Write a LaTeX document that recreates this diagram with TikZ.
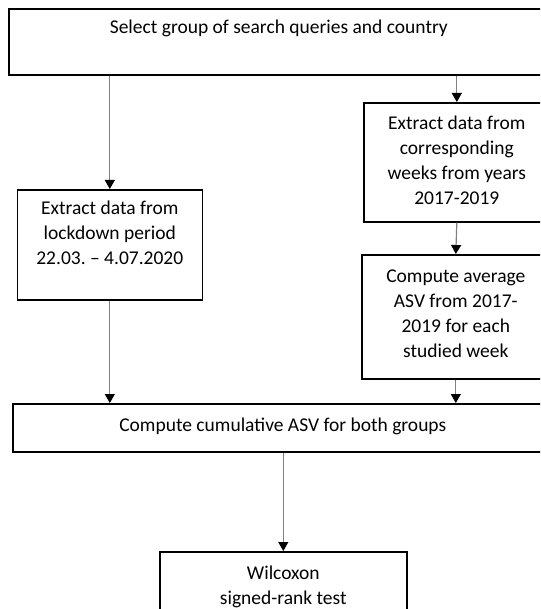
\documentclass[tikz,border=0pt]{standalone}
\usepackage{fontspec}
\setmainfont{Carlito}
\usepackage{tikz}
\usetikzlibrary{arrows.meta}
\setlength{\tabcolsep}{0pt}

\begin{document}
\begin{tikzpicture}[x=1pt,y=-1pt,
    >={Triangle[color=black,length=9pt,width=10pt]},
    box/.style={shape=rectangle,draw=black,line width=1.6pt,inner sep=0pt,
      anchor=north west,font=\fontsize{19.5}{25}\selectfont},
    flow/.style={->,draw=gray,line width=1.2pt}]
  \clip (0,0) rectangle (540,609);
  \node (select) [box,minimum width=540pt,text height=25pt,text depth=41pt] at (8,8)
    {Select group of search queries and country};
  \node (lockdown) [box,minimum width=185pt,text height=25pt,text depth=85pt] at (16.5,189) {
    \begin{tabular}[t]{c}
      Extract data from\\
      lockdown period\\
      22.03.\ -- 4.07.2020
    \end{tabular}
  };
  \node (extract) [box,minimum width=186pt,text height=27pt,text depth=92pt] at (363,102) {
    \begin{tabular}[t]{c}
      Extract data from\\
      corresponding\\
      weeks from years\\
      2017-2019
    \end{tabular}
  };
  \node (average) [box,minimum width=188pt,text height=28pt,text depth=96pt] at (361,254) {
    \begin{tabular}[t]{c}
      Compute average\\
      ASV from 2017-\\
      2019 for each\\
      studied week
    \end{tabular}
  };
  \node (cumul) [box,minimum width=540pt,text height=27.5pt,text depth=20.5pt] at (12,403)
    {Compute cumulative ASV for both groups};
  \node (wilcoxon) [box,minimum width=247pt,text height=27.5pt,text depth=60pt] at (159,551) {
    \begin{tabular}[t]{c}
      Wilcoxon\\
      signed-rank test
    \end{tabular}
  };

  \draw[flow] (select.south -| lockdown.north) -- (lockdown.north);
  \draw[flow] (select.south -| extract.north) -- (extract.north);
  \draw[flow] (extract.south) -- (average.north);
  \draw[flow] (lockdown.south) -- (lockdown.south |- cumul.north);
  \draw[flow] (average.south) -- (average.south |- cumul.north);
  \draw[flow] (cumul.south -| wilcoxon.north) -- (wilcoxon.north);
\end{tikzpicture}
\end{document}
